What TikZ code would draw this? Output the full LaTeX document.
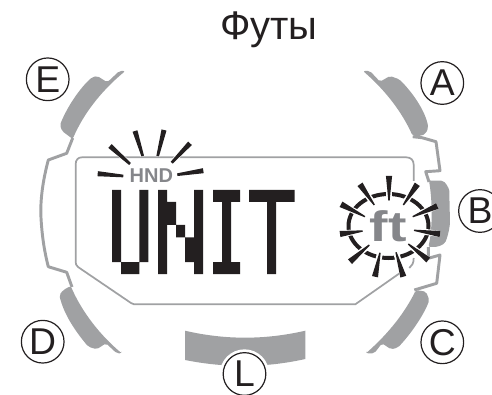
\documentclass[tikz,border=0pt]{standalone}
\usepackage{fontspec}
\setmainfont{Liberation Sans}
\usepackage{tikz}
\usetikzlibrary{calc}
\definecolor{btngray}{HTML}{A0A1A3}
\definecolor{inkblack}{HTML}{231F20}
\definecolor{ftgray}{HTML}{85868A}
\tikzset{
    btn/.style={fill=btngray,rounded corners=1.5pt},
    caseline/.style={draw=btngray,line width=2.2pt,line join=round},
    lcdline/.style={draw=btngray,line width=1.3pt},
    seg/.style={fill=inkblack},
    keylabel/.style={circle,draw=inkblack,line width=0.9pt,minimum size=32pt,inner sep=0pt,
      font=\fontsize{28}{28}\selectfont,text=inkblack}
}

\begin{document}
\begin{tikzpicture}[x=0.75pt,y=-0.75pt]
  \useasboundingbox (0,0) rectangle (492,395);
  \clip (0,0) rectangle (492,395);

  % title
  \node[font=\fontsize{30}{30}\selectfont,text=inkblack] (title) at (269,30) {Футы};

  % buttons
  \fill[btn] (119.3,71) -- (125.3,71) .. controls (100,92) and (83,115) .. (72.7,139)
    -- (62,131) -- (60,125) .. controls (67,107) and (80,88) .. (92,77.3)
    -- (97.3,76) -- (107.3,82.3) -- cycle;
  \fill[btn] (370,71) -- (363,71) .. controls (385,90) and (402,112) .. (412.7,136)
    -- (421,136) -- (426,133.3) -- (428.3,127.3) .. controls (425,110) and (412,92) .. (399.3,79.3)
    -- (390,76) -- (380,81.7) -- cycle;
  \fill[btn] (366,353.3) -- (374.3,353.3) -- (382,343.3) -- (391,349.3) -- (397.7,347.7)
    .. controls (410,335) and (424,315) .. (429.3,300) -- (426,291.7) -- (416,290)
    .. controls (405,312) and (390,332) .. (366,353.3) -- cycle;
  \fill[btn] (121.7,353.3) -- (116.7,353.3) -- (106,343.3) -- (96.7,349.3) -- (88.3,346.7)
    .. controls (76,332) and (64,315) .. (59.3,295) -- (63.3,290) -- (70.7,286)
    .. controls (82,312) and (100,335) .. (121.7,353.3) -- cycle;
  \fill[btn] (429,180.7) -- (443.3,180.7) .. controls (448,186) and (449.3,190) .. (449.3,193)
    -- (450,223) .. controls (449,232) and (447,238) .. (445,243.3)
    -- (438.3,246.7) -- (428.3,247) .. controls (432,232) and (433,205) .. cycle;
  \fill[btngray] (185,330.7) .. controls (225,340) and (265,340) .. (305.3,330.7)
    -- (305.3,359) .. controls (265,368) and (225,368) .. (185,360) -- cycle;

  % case
  \draw[caseline] (72.7,138) -- (66.7,153.3) -- (48.3,160)
    .. controls (43,180) and (40,200) .. (41,218) .. controls (42,235) and (44,250) .. (48.3,266.7)
    -- (66.7,272.3) -- (72,287);
  \draw[caseline] (412.7,136.7) -- (422,137.7) -- (436,141.7) -- (440,170.7) -- (425.7,171.7) -- (429,182);
  \draw[caseline] (428.3,247) -- (428.3,258.3) -- (440,255) -- (436.7,283.3) -- (414.3,290);

  % LCD
  \draw[lcdline] (413.7,181) -- (413.7,165) .. controls (413.7,160) and (411,157.3) .. (406,157.3)
    -- (82,157.3) .. controls (78,157.3) and (75.7,160) .. (75.7,164)
    -- (75.7,262) .. controls (75.7,264) and (76,265) .. (78,267)
    -- (131,303) .. controls (132,304) and (133,304.3) .. (134,304.3)
    -- (355.3,304.3) -- (400,273);
  \draw[lcdline] (413.7,258) .. controls (413.7,263) and (412,266) .. (409.3,268);

  % UNIT
  \fill[seg] (112,190) rectangle (121,262) (121,262) rectangle (139.3,274) (139.3,190) rectangle (148.3,262);
  \fill[seg] (158,190) rectangle (167,274) (167,202) rectangle (176,225) (176,225) rectangle (185,237.3)
    (185,237.3) rectangle (194,262) (194,190) rectangle (203,274);
  \fill[seg] (213,190) rectangle (240,202) (222,202) rectangle (231,262) (213,262) rectangle (240,274);
  \fill[seg] (249,190) rectangle (294.7,202) (267,202) rectangle (276,274);

  % HND
  \node[font=\fontsize{15}{15}\selectfont\bfseries,text=ftgray] (hnd) at (151.3,175.5) {HND};
  \foreach \ox/\oy/\ix/\iy in {97.7/173.7/123.3/176, 110/146/130/164, 135/131/142.7/156,
      164/130/157.7/156, 190/143.3/171.7/162.7, 203.3/170.7/177.3/174.7}{
    \draw[white,line width=3.5pt] (\ox,\oy) -- (\ix,\iy);
    \fill[seg] ($(\ox,\oy)!1.9pt!90:(\ix,\iy)$) -- ($(\ix,\iy)!1pt!-90:(\ox,\oy)$)
      -- ($(\ix,\iy)!1pt!90:(\ox,\oy)$) -- ($(\ox,\oy)!1.9pt!-90:(\ix,\iy)$) -- cycle;
  }

  % ft
  \draw[inkblack,line width=3pt] (388.5,226) ellipse (30pt and 24pt);
  \node[font=\fontsize{32}{32}\selectfont\bfseries,text=ftgray,xscale=1.3] (ft) at (388,226) {ft};
  \foreach \ox/\oy/\ix/\iy in {389/176/389/200.7, 360/184.3/374.3/205, 417.3/184.3/403.3/205,
      341/204.3/365/216.7, 437.3/206/412.7/216.7, 340/234/362.7/231, 440/234/414/230.3,
      350/261.7/369.3/245, 428.3/260/408.3/244, 375/276.7/380/252.7, 403.3/276.7/396/252.3}{
    \draw[white,line width=4.5pt] (\ox,\oy) -- (\ix,\iy);
    \fill[seg] ($(\ox,\oy)!2.3pt!90:(\ix,\iy)$) -- ($(\ix,\iy)!0.5pt!-90:(\ox,\oy)$)
      -- ($(\ix,\iy)!0.5pt!90:(\ox,\oy)$) -- ($(\ox,\oy)!2.3pt!-90:(\ix,\iy)$) -- cycle;
  }

  % keys
  \node[keylabel] (keyE) at (47.7,79.3) {E};
  \node[keylabel] (keyA) at (442.3,83) {A};
  \node[keylabel] (keyB) at (480,211) {B};
  \node[keylabel] (keyD) at (42.7,341.7) {D};
  \node[keylabel] (keyC) at (442.3,342.3) {C};
  \fill[white] (244.5,374) circle (18.5pt);
  \node[keylabel] (keyL) at (244.5,374) {L};
\end{tikzpicture}
\end{document}
